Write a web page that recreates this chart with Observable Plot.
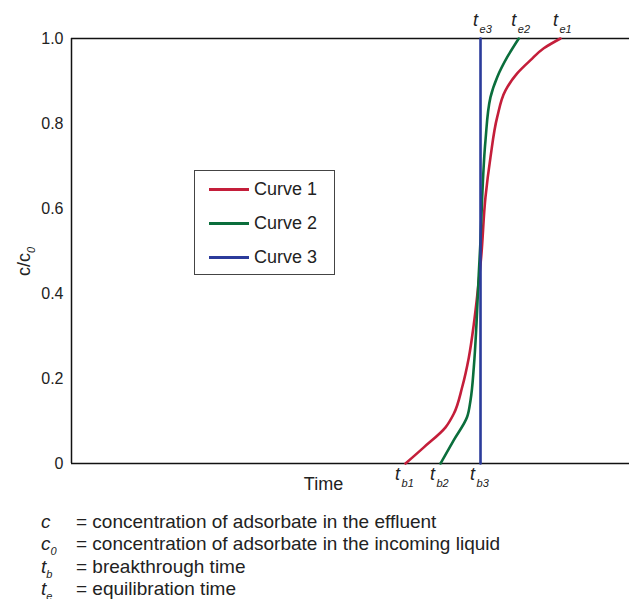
<!DOCTYPE html>
<html>
<head>
<meta charset="utf-8">
<script src="https://cdn.jsdelivr.net/npm/d3@7"></script>
<script src="https://cdn.jsdelivr.net/npm/@observablehq/plot@0.6"></script>
<style>
  html, body { margin: 0; padding: 0; background: #fff; }
  #wrap { position: relative; width: 629px; height: 599px; overflow: hidden;
          font-family: "Liberation Sans", Arial, Helvetica, sans-serif; color: #222; }
  #legend { position: absolute; left: 194px; top: 170px; width: 139px; height: 103px;
            border: 1.5px solid #444; background: #fff; }
  .lrow { position: absolute; left: 0; height: 22px; line-height: 22px; font-size: 18px; }
  .lrow .sw { position: absolute; left: 14px; top: 10px; width: 40px; height: 2.5px; }
  .lrow .lb { position: absolute; left: 59px; top: 0; white-space: nowrap; }
  .note { position: absolute; left: 0; height: 22px; line-height: 22px; font-size: 19px; white-space: nowrap; }
  .note .sym { position: absolute; left: 41px; font-style: italic; }
  .note .sym sub { font-size: 11px; vertical-align: -5px; line-height: 0; }
  .note .def { position: absolute; left: 76px; }
</style>
</head>
<body>
<div id="wrap"></div>
<script>
// ---- data ----
const curveNames = ["Curve 1", "Curve 2", "Curve 3"];
const curveColors = ["#c41e3a", "#0b6e3c", "#2b3b9b"];

const time1 = [59.86, 63.14, 67.03, 68.51, 70.02, 71.20, 72.10, 72.81, 73.42, 74.19, 75.09, 76.29, 77.78, 79.87, 82.26, 84.64, 87.63];
const conc1 = [0, 0.038, 0.085, 0.117, 0.180, 0.249, 0.328, 0.407, 0.486, 0.627, 0.721, 0.815, 0.878, 0.918, 0.949, 0.977, 1.0];

const time2 = [66.13, 68.51, 70.91, 71.51, 72.10, 72.58, 72.99, 73.30, 73.60, 74.19, 75.09, 76.29, 78.08, 80.16];
const conc2 = [0, 0.055, 0.110, 0.149, 0.227, 0.329, 0.447, 0.525, 0.627, 0.760, 0.862, 0.909, 0.956, 1.0];

const time3 = [73.30, 73.30];
const conc3 = [0, 1.0];

const breakSubs = ["b1", "b2", "b3"];
const equilSubs = ["e1", "e2", "e3"];
const yTicks = [0, 0.2, 0.4, 0.6, 0.8, 1.0];
const timeDomain = [0, 100];

const notes = [
  {sym: "c", sub: "", def: "= concentration of adsorbate in the effluent"},
  {sym: "c", sub: "0", def: "= concentration of adsorbate in the incoming liquid"},
  {sym: "t", sub: "b", def: "= breakthrough time"},
  {sym: "t", sub: "e", def: "= equilibration time"}
];

// ---- build tables ----
const series = [[time1, conc1], [time2, conc2], [time3, conc3]];
const rows = [];
series.forEach(([ts, cs], i) => ts.forEach((t, j) => rows.push({curve: curveNames[i], t, c: cs[j]})));
const starts = series.map(([ts], i) => ({t: ts[0], sub: breakSubs[i]}));
const ends = series.map(([ts], i) => ({t: ts[ts.length - 1], sub: equilSubs[i]}));

const ink = "#222";
const chart = Plot.plot({
  width: 629,
  height: 505,
  marginLeft: 71,
  marginRight: 0,
  marginTop: 38,
  marginBottom: 42,
  style: {fontFamily: '"Liberation Sans", Arial, Helvetica, sans-serif', fontSize: "16px", color: ink, background: "#fff", overflow: "visible"},
  x: {domain: timeDomain, axis: null},
  y: {domain: [0, 1], axis: null},
  color: {domain: curveNames, range: curveColors},
  marks: [
    Plot.axisY({ticks: yTicks, tickSize: 0, tickPadding: 8, fontSize: 16, fill: ink,
                tickFormat: d => d === 0 ? "0" : d.toFixed(1), label: null}),
    Plot.ruleY([0, 1], {stroke: "#111", strokeWidth: 1.5}),
    Plot.ruleX([timeDomain[0]], {y1: 0, y2: 1, stroke: "#111", strokeWidth: 1.5}),
    Plot.line(rows, {x: "t", y: "c", z: "curve", stroke: "curve", strokeWidth: 2.6, curve: "monotone-y"}),
    // end labels (t_e)
    Plot.text(ends, {x: "t", frameAnchor: "top", text: () => "t", fontStyle: "italic", fontSize: 18,
                     lineAnchor: "bottom", dy: -13, dx: -5, fill: ink}),
    Plot.text(ends, {x: "t", frameAnchor: "top", text: "sub", fontStyle: "italic", fontSize: 11,
                     textAnchor: "start", lineAnchor: "bottom", dy: -6, dx: -1, fill: ink}),
    // start labels (t_b)
    Plot.text(starts, {x: "t", frameAnchor: "bottom", text: () => "t", fontStyle: "italic", fontSize: 18,
                       lineAnchor: "bottom", dy: 16, dx: -8, fill: ink}),
    Plot.text(starts, {x: "t", frameAnchor: "bottom", text: "sub", fontStyle: "italic", fontSize: 11,
                       textAnchor: "start", lineAnchor: "bottom", dy: 23, dx: -4, fill: ink}),
    // axis labels
    Plot.text(["Time"], {frameAnchor: "bottom", dx: -27, dy: 26, fontSize: 18, fill: ink}),
    Plot.text(["c/c0"], {frameAnchor: "left", dx: -47, dy: 25, rotate: -90, fontSize: 18, fill: ink})
  ]
});

// subscript for the y label
d3.select(chart).selectAll("text").filter(function () { return this.textContent === "c/c0"; })
  .each(function () {
    const el = d3.select(this);
    el.text(null);
    el.append("tspan").text("c/c");
    el.append("tspan").attr("font-size", 11).attr("font-style", "italic").attr("dy", "0.45em").text("0");
  });

const wrap = document.getElementById("wrap");
wrap.appendChild(chart);

// legend
const legend = document.createElement("div");
legend.id = "legend";
curveNames.forEach((name, i) => {
  const r = document.createElement("div");
  r.className = "lrow";
  r.style.top = (7 + i * 34) + "px";
  r.style.width = "139px";
  r.innerHTML = `<span class="sw" style="background:${curveColors[i]}"></span><span class="lb">${name}</span>`;
  legend.appendChild(r);
});
wrap.appendChild(legend);

// footnotes
notes.forEach((n, i) => {
  const d = document.createElement("div");
  d.className = "note";
  d.style.top = (511 + i * 22.3) + "px";
  d.style.width = "629px";
  d.innerHTML = `<span class="sym">${n.sym}${n.sub ? `<sub>${n.sub}</sub>` : ""}</span><span class="def">${n.def}</span>`;
  wrap.appendChild(d);
});
</script>
</body>
</html>
